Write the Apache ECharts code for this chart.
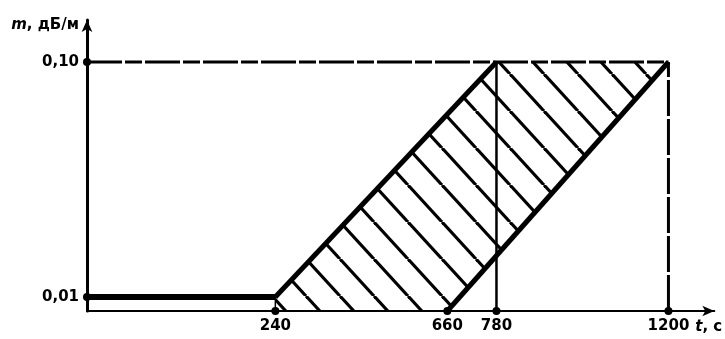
<!DOCTYPE html>
<html>
<head>
<meta charset="utf-8">
<script src="https://cdn.jsdelivr.net/npm/echarts@6/dist/echarts.min.js"></script>
<style>
  html, body { margin: 0; padding: 0; background: #fff; }
  #chart { width: 725px; height: 339px; }
</style>
</head>
<body>
<div id="chart"></div>
<script>
// tick labels on the axes
const xTicks = [240, 660, 780, 1200]
const yTicks = [0.01, 0.10]

// axis extents (schematic drawing, origin is not at t = 0)
const X_MIN = -220
const X_MAX = 1312
const Y_MIN = 0.00872
const Y_MAX = 0.1509

// lines of the figure, [t, m]
const lowLevel = [[X_MIN, 0.01], [240, 0.01]]
const leftEdge = [[240, 0.01], [780, 0.10]]
const rightEdge = [[660, Y_MIN], [1200, 0.10]]
const topLevel = [[X_MIN, 0.10], [1200, 0.10]]
const line240 = [[240, Y_MIN], [240, 0.01]]
const line780 = [[780, Y_MIN], [780, 0.10]]
const line1200 = [[1200, Y_MIN], [1200, 0.10]]
// hatched zone
const zone = [[240, Y_MIN], [240, 0.01], [780, 0.10], [1200, 0.10], [660, Y_MIN]]

const FONT = 'DejaVu Sans'

// hatch pattern tile
function hatchTile () {
  const w = 34
  const h = 37
  const c = document.createElement('canvas')
  c.width = w
  c.height = h
  const ctx = c.getContext('2d')
  ctx.strokeStyle = '#000'
  ctx.lineWidth = 3.2
  for (let k = -1; k <= 1; k++) {
    ctx.beginPath()
    ctx.moveTo(k * w, 0)
    ctx.lineTo(k * w + w, h)
    ctx.stroke()
  }
  return c
}

const chart = echarts.init(document.getElementById('chart'))

function seg (data, width, type) {
  return {
    type: 'line',
    data: data,
    symbol: 'none',
    silent: true,
    animation: false,
    clip: false,
    z: 3,
    lineStyle: { color: '#000', width: width, type: type || 'solid', cap: 'butt', opacity: 1 }
  }
}

const richItalic = { i: { fontStyle: 'italic', fontFamily: FONT, fontWeight: 'bold', fontSize: 15, color: '#000' } }

chart.setOption({
  animation: false,
  grid: { left: 87, right: 8, top: 20, bottom: 28 },
  xAxis: {
    type: 'value',
    min: X_MIN,
    max: X_MAX,
    splitLine: { show: false },
    axisTick: { show: false },
    axisLine: {
      onZero: false,
      symbol: ['none', 'arrow'],
      symbolSize: [8, 12],
      lineStyle: { color: '#000', width: 2 }
    },
    axisLabel: {
      customValues: xTicks,
      formatter: v => String(v),
      color: '#000',
      fontFamily: FONT,
      fontWeight: 'bold',
      fontSize: 15,
      margin: 8
    },
    name: '{i|t}, c',
    nameLocation: 'end',
    nameGap: -24,
    nameTextStyle: {
      color: '#000',
      fontFamily: FONT,
      fontWeight: 'bold',
      fontSize: 15,
      align: 'left',
      verticalAlign: 'top',
      padding: [9, 0, 0, 0],
      rich: richItalic
    }
  },
  yAxis: {
    type: 'log',
    logBase: 10,
    min: Y_MIN,
    max: Y_MAX,
    splitLine: { show: false },
    axisTick: { show: false },
    axisLine: {
      onZero: false,
      symbol: ['none', 'arrow'],
      symbolSize: [8, 12],
      lineStyle: { color: '#000', width: 3 }
    },
    axisLabel: {
      customValues: yTicks,
      formatter: v => v.toFixed(2).replace('.', ','),
      color: '#000',
      fontFamily: FONT,
      fontWeight: 'bold',
      fontSize: 15,
      margin: 8
    },
    name: '{i|m}, дБ/м',
    nameLocation: 'end',
    nameGap: -5,
    nameTextStyle: {
      color: '#000',
      fontFamily: FONT,
      fontWeight: 'bold',
      fontSize: 15,
      align: 'right',
      verticalAlign: 'middle',
      padding: [0, 8, 0, 0],
      rich: richItalic
    }
  },
  series: [
    {
      type: 'custom',
      silent: true,
      z: 1,
      data: [0],
      renderItem: function (params, api) {
        return {
          type: 'polygon',
          shape: { points: zone.map(p => api.coord(p)) },
          style: { fill: { image: hatchTile(), repeat: 'repeat' }, stroke: null }
        }
      }
    },
    seg(topLevel, 3, [35, 3, 17, 3]),
    seg(line1200, 3, [36, 3]),
    seg(line780, 2.5),
    seg(line240, 1.5),
    seg(lowLevel, 6),
    seg(leftEdge, 5),
    seg(rightEdge, 5),
    {
      type: 'scatter',
      symbol: 'circle',
      symbolSize: 8,
      clip: false,
      silent: true,
      z: 5,
      itemStyle: { color: '#000', opacity: 1 },
      data: xTicks.map(t => [t, Y_MIN]).concat(yTicks.map(m => [X_MIN, m]))
    }
  ]
})
</script>
</body>
</html>
